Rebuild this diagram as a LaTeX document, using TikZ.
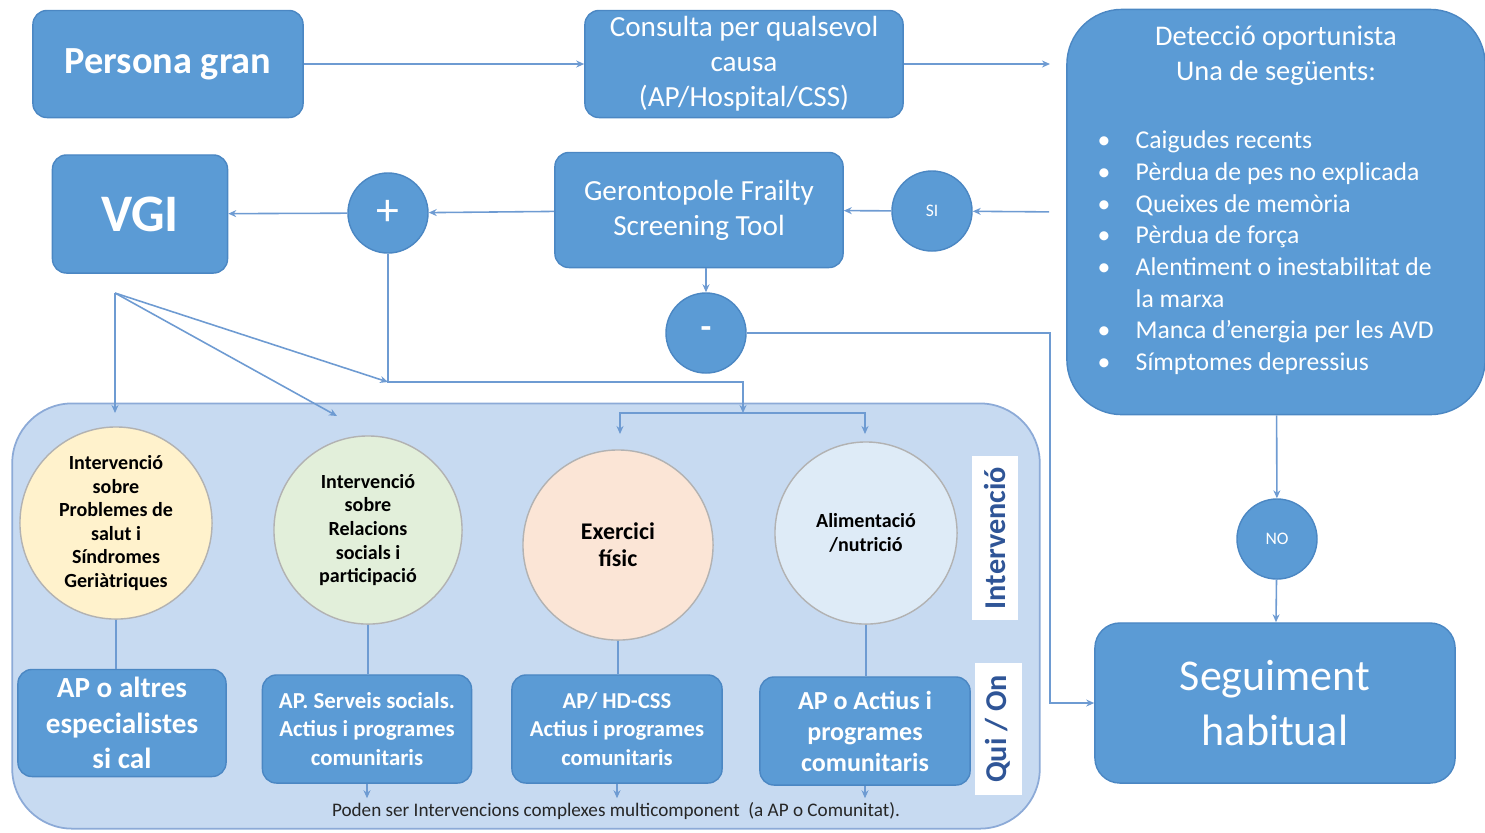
\documentclass[tikz,border=0pt]{standalone}
\usepackage{fontspec}
\setmainfont{Carlito}
\usepackage{tikz}
\usetikzlibrary{positioning, calc, arrows.meta}
\definecolor{boxblue}{RGB}{91, 155, 213}
\definecolor{boxedge}{RGB}{75, 135, 195}
\definecolor{lineblue}{RGB}{110, 155, 210}
\definecolor{panelfill}{RGB}{199, 218, 241}
\definecolor{paneledge}{RGB}{140, 170, 215}
\definecolor{tagblue}{RGB}{47, 85, 151}
\definecolor{healthyellow}{RGB}{255, 242, 204}
\definecolor{socialgreen}{RGB}{226, 239, 218}
\definecolor{exercisepeach}{RGB}{251, 229, 214}
\definecolor{foodblue}{RGB}{222, 235, 247}

\begin{document}
\begin{tikzpicture}[x=0.01cm, y=-0.01cm,
    bluebox/.style={draw=boxedge, line width=0.4pt, fill=boxblue, rounded corners=0.14cm, text=white, align=center, inner sep=0pt},
    bluedot/.style={circle, draw=boxedge, line width=0.4pt, fill=boxblue, text=white, minimum size=0.8cm, inner sep=0pt},
    topic/.style={circle, draw=gray!60, line width=0.4pt, text=black, align=center, inner sep=0pt},
    tag/.style={fill=white, text=tagblue, rotate=90, inner sep=0pt, font=\fontsize{8.6}{10}\selectfont\bfseries},
    conn/.style={draw=lineblue, line width=0.45pt, -{Stealth[length=0.8mm, width=0.7mm]}},
    link/.style={draw=lineblue, line width=0.45pt}]

    \useasboundingbox (0,0) rectangle (1485,832);

    % Top row
    \node[bluebox, minimum width=2.70cm, minimum height=1.07cm, font=\fontsize{10.9}{12}\selectfont\bfseries] (persona) at (168,64) {Persona gran};
    \node[bluebox, minimum width=3.18cm, minimum height=1.07cm, font=\fontsize{8.3}{10}\selectfont] (consulta) at (744,64) {Consulta per qualsevol\\causa\\(AP/Hospital/CSS)};

    % Detection box with the list
    \node[bluebox, rounded corners=0.55cm, minimum width=4.18cm, minimum height=4.05cm] (det) at (1276,212) {};
    \node[text=white, align=center, font=\fontsize{8.1}{10}\selectfont] (dettitle) at (1276,56) {Detecció oportunista\\Una de següents:};
    \node[text=white, anchor=north west, inner sep=0pt, font=\fontsize{7.3}{9}\selectfont] (detlist) at (1097,126) {%
        \begin{tabular}{@{}p{0.38cm}@{}l@{}}
        \textbullet & Caigudes recents\\
        \textbullet & Pèrdua de pes no explicada\\
        \textbullet & Queixes de memòria\\
        \textbullet & Pèrdua de força\\
        \textbullet & Alentiment o inestabilitat de\\
                    & la marxa\\
        \textbullet & Manca d’energia per les AVD\\
        \textbullet & Símptomes depressius
        \end{tabular}};

    % Second row
    \node[bluebox, minimum width=1.75cm, minimum height=1.18cm, font=\fontsize{15}{18}\selectfont\bfseries] (vgi) at (140,214) {VGI};
    \node[bluedot, font=\fontsize{13}{14}\selectfont] (plus) at (388,213) {+};
    \node[bluebox, minimum width=2.88cm, minimum height=1.15cm, font=\fontsize{8.3}{10}\selectfont] (gero) at (699,210) {Gerontopole Frailty\\Screening Tool};
    \node[bluedot, font=\fontsize{5}{6}\selectfont] (si) at (932,211) {SI};
    \node[bluedot, font=\fontsize{10}{12}\selectfont\bfseries] (minus) at (706,333) {-};

    % Right column
    \node[bluedot, font=\fontsize{5}{6}\selectfont] (no) at (1277,539) {NO};
    \node[bluebox, rounded corners=0.25cm, minimum width=3.60cm, minimum height=1.60cm, font=\fontsize{12.5}{15.4}\selectfont] (seg) at (1275,703) {Seguiment\\habitual};

    % Intervention panel
    \node[draw=paneledge, line width=0.5pt, fill=panelfill, rounded corners=0.6cm, minimum width=10.27cm, minimum height=4.25cm] (panel) at (526,616) {};

    \node[topic, fill=healthyellow, minimum size=1.92cm, font=\fontsize{5.7}{6.7}\selectfont\bfseries] (c1) at (116,523) {Intervenció\\sobre\\Problemes de\\salut i\\Síndromes\\Geriàtriques};
    \node[topic, fill=socialgreen, minimum size=1.88cm, font=\fontsize{5.7}{6.7}\selectfont\bfseries] (c2) at (368,530) {Intervenció\\sobre\\Relacions\\socials i\\participació};
    \node[topic, fill=exercisepeach, minimum size=1.90cm, font=\fontsize{6.8}{7.7}\selectfont\bfseries] (c3) at (618,545) {Exercici\\físic};
    \node[topic, fill=foodblue, minimum size=1.82cm, font=\fontsize{5.7}{6.8}\selectfont\bfseries] (c4) at (866,533) {Alimentació\\/nutrició};

    \node[bluebox, minimum width=2.08cm, minimum height=1.07cm, font=\fontsize{8.3}{10}\selectfont\bfseries] (b1) at (122,723) {AP o altres\\especialistes\\si cal};
    \node[bluebox, minimum width=2.09cm, minimum height=1.08cm, font=\fontsize{6.5}{8}\selectfont\bfseries] (b2) at (367,729) {AP. Serveis socials.\\Actius i programes\\comunitaris};
    \node[bluebox, minimum width=2.10cm, minimum height=1.08cm, font=\fontsize{6.45}{8}\selectfont\bfseries] (b3) at (617,729) {AP/ HD-CSS\\Actius i programes\\comunitaris};
    \node[bluebox, minimum width=2.10cm, minimum height=1.08cm, font=\fontsize{7.4}{8.8}\selectfont\bfseries] (b4) at (865,731) {AP o Actius i\\programes\\comunitaris};

    \node[tag, minimum width=1.63cm, minimum height=0.46cm] (tagint) at (995,538) {Intervenció};
    \node[tag, minimum width=1.32cm, minimum height=0.47cm] (tagqui) at (998,729) {Qui / On};

    \node[inner sep=1pt, text=black!85, font=\fontsize{5.45}{6}\selectfont] (note) at (616,811) {Poden ser Intervencions\ complexes multicomponent\ \ (a AP o Comunitat).};

    % Connectors along the top
    \coordinate (detin) at (1050,64);
    \coordinate (minusbend) at (1050,333);
    \draw[conn] (persona) -- (consulta);
    \draw[conn] (consulta) -- (detin);
    \draw[conn, shorten <=0.17cm] (det.west) -- (si);
    \draw[conn] (si) -- (gero);
    \draw[conn] (gero) -- (plus);
    \draw[conn] (plus) -- (vgi);
    \draw[conn] (gero.south -| minus) -- (minus);
    \draw[conn] (minus) -- (minusbend) |- (seg);
    \draw[conn] (det) -- (no);
    \draw[conn] (no) -- (seg);

    % Fork from VGI and from +
    \coordinate (vgifork) at (115,293);
    \coordinate (t1) at (115,413);
    \coordinate (t2) at (337,416);
    \coordinate (bus) at (388,382);
    \coordinate (split) at (743,413);
    \coordinate (t3) at (620,434);
    \coordinate (t4) at (865,434);
    \draw[conn] (vgifork) -- (t1);
    \draw[conn] (vgifork) -- (t2);
    \draw[conn] (vgifork) -- (bus);
    \draw[conn] (plus) -- (bus) -| (split);
    \draw[conn] (split) -| (t3);
    \draw[conn] (split) -| (t4);

    % Circles to who / where
    \draw[link] (c1.south) -- (c1.south |- b1.north);
    \draw[link] (c2.south) -- (c2.south |- b2.north);
    \draw[link] (c3.south) -- (c3.south |- b3.north);
    \draw[link] (c4.south) -- (c4.south |- b4.north);
    \draw[conn] (b2.south) -- (b2.south |- note.north);
    \draw[conn] (b3.south) -- (b3.south |- note.north);
    \draw[conn] (b4.south) -- (b4.south |- note.north);

\end{tikzpicture}
\end{document}
